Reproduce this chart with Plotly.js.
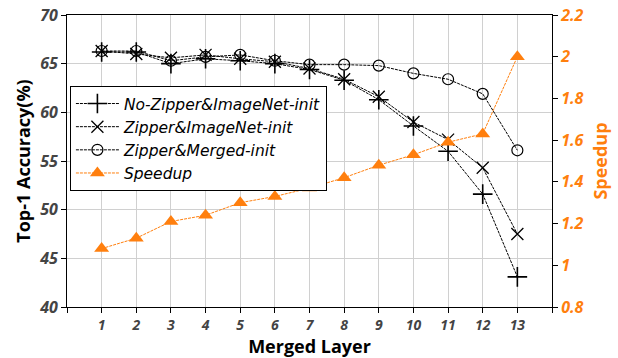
<!DOCTYPE html>
<html>
<head>
<meta charset="utf-8">
<script src="https://cdn.plot.ly/plotly-3.0.1.min.js"></script>
<style>html,body{margin:0;padding:0;background:#fff}#chart{width:618px;height:358px}</style>
</head>
<body>
<div id="chart"></div>
<script>
const layers = [1,2,3,4,5,6,7,8,9,10,11,12,13];
const noZipperImageNet = [66.2,66.2,65.0,65.5,65.3,65.0,64.4,63.3,61.3,58.6,56.0,51.6,43.1];
const zipperImageNet   = [66.3,66.0,65.6,65.9,65.5,65.2,64.5,63.4,61.6,59.0,57.2,54.3,47.5];
const zipperMergedInit = [66.3,66.3,65.3,65.7,65.9,65.3,64.9,64.9,64.8,64.0,63.4,61.9,56.1];
const speedup          = [1.08,1.13,1.21,1.24,1.30,1.33,1.37,1.42,1.48,1.53,1.59,1.63,2.0];
const xTickVals = [0,1,2,3,4,5,6,7,8,9,10,11,12,13,14];
const xTickText = ['','1','2','3','4','5','6','7','8','9','10','11','12','13',''];

const FONT = '"Open Sans", "DejaVu Sans", sans-serif';
const LFONT = '"DejaVu Sans", sans-serif';
const ORANGE = '#ff7f0e';
const lineStyle = {color:'#000', width:1, dash:'3px,1px'};

const traces = [
  {x:layers, y:noZipperImageNet, name:'No-Zipper&ImageNet-init', mode:'lines+markers',
   line:lineStyle, marker:{symbol:'cross-thin', size:14, color:'#000', line:{color:'#000', width:1.6}}},
  {x:layers, y:zipperImageNet, name:'Zipper&ImageNet-init', mode:'lines+markers',
   line:lineStyle, marker:{symbol:'x-thin', size:12, color:'#000', line:{color:'#000', width:1.3}}},
  {x:layers, y:zipperMergedInit, name:'Zipper&Merged-init', mode:'lines+markers',
   line:lineStyle, marker:{symbol:'circle-open', size:11, color:'#000', line:{color:'#000', width:1.2}}},
  {x:layers, y:speedup, name:'Speedup', mode:'lines+markers', yaxis:'y2',
   line:{color:ORANGE, width:1, dash:'3px,1px'}, marker:{symbol:'triangle-up', size:13, color:ORANGE}}
];

const layout = {
  width:618, height:358,
  margin:{l:67, r:66, t:15, b:51},
  paper_bgcolor:'#fff', plot_bgcolor:'#fff',
  font:{family:FONT},
  showlegend:true,
  legend:{x:0.006, y:0.757, xanchor:'left', yanchor:'top',
    bgcolor:'#fff', bordercolor:'#000', borderwidth:1,
    font:{family:LFONT, size:15.5, style:'italic', color:'#000'},
    tracegroupgap:0, itemwidth:43},
  xaxis:{range:[0,14], tickvals:xTickVals, ticktext:xTickText,
    showgrid:true, gridcolor:'#d0d0d0', gridwidth:1, zeroline:false,
    showline:true, linecolor:'#000', linewidth:1, mirror:true,
    ticks:'outside', ticklen:5, tickcolor:'#000',
    tickfont:{family:FONT, size:14, color:'#444', weight:'bold', style:'italic'},
    title:{text:'Merged Layer', font:{family:FONT, size:18, color:'#000', weight:'bold'}}},
  yaxis:{range:[40,70], dtick:5, tick0:40,
    showgrid:true, gridcolor:'#d0d0d0', gridwidth:1, zeroline:false,
    showline:true, linecolor:'#000', linewidth:1,
    ticks:'outside', ticklen:5, tickcolor:'#000',
    tickfont:{family:FONT, size:16, color:'#444', weight:'bold', style:'italic'},
    title:{text:'Top-1 Accuracy(%)', font:{family:FONT, size:18, color:'#000', weight:'bold'}, standoff:3}},
  yaxis2:{range:[0.8,2.2], dtick:0.2, tick0:0.8, overlaying:'y', side:'right',
    showgrid:false, zeroline:false,
    showline:true, linecolor:'#000', linewidth:1,
    ticks:'outside', ticklen:5, tickcolor:'#000',
    tickfont:{family:FONT, size:16, color:ORANGE, weight:'bold', style:'italic'},
    title:{text:'Speedup', font:{family:FONT, size:18, color:ORANGE, weight:'bold'}, standoff:10}}
};

Plotly.newPlot('chart', traces, layout, {displayModeBar:false, staticPlot:true});
</script>
</body>
</html>
